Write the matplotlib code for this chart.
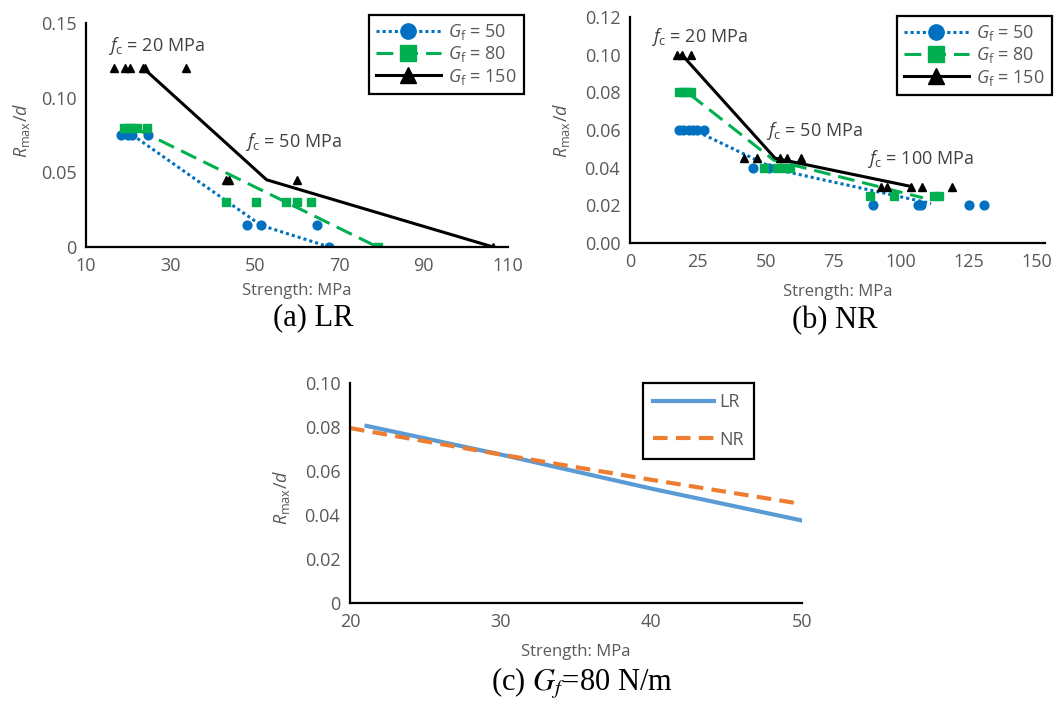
import matplotlib
matplotlib.use("Agg")
import matplotlib.pyplot as plt
from matplotlib.lines import Line2D

plt.rcParams['font.family'] = ['Open Sans', 'DejaVu Sans']
plt.rcParams['mathtext.fontset'] = 'custom'
plt.rcParams['mathtext.rm'] = 'Open Sans'
plt.rcParams['mathtext.it'] = 'Open Sans:italic'

# ---- (a) LR : points mesurés et tendances
a_x50 = [18.2, 20.0, 21.0, 24.6, 48.2, 51.4, 64.8, 67.7]
a_y50 = [0.075, 0.075, 0.075, 0.075, 0.015, 0.015, 0.015, 0.0]
a_x80 = [19.0, 20.0, 21.0, 22.0, 24.4, 43.1, 50.2, 57.4, 60.1, 63.4, 79.1]
a_y80 = [0.08, 0.08, 0.08, 0.08, 0.08, 0.03, 0.03, 0.03, 0.03, 0.03, 0.0]
a_x150 = [16.7, 19.2, 20.4, 23.6, 24.0, 33.6, 43.1, 43.9, 60.0, 106.5]
a_y150 = [0.12, 0.12, 0.12, 0.12, 0.12, 0.12, 0.045, 0.045, 0.045, 0.0]
a_tx50, a_ty50 = [21.0, 51.5, 67.7], [0.075, 0.0145, 0.0]
a_tx80, a_ty80 = [22.0, 79.1], [0.079, 0.0]
a_tx150, a_ty150 = [23.5, 52.8, 106.5], [0.12, 0.045, 0.0]

# ---- (b) NR
b_x50 = [18.2, 19.7, 21.6, 23.4, 24.6, 27.3, 45.3, 51.1, 89.5, 106.3, 107.4, 125.0, 130.5]
b_y50 = [0.06, 0.06, 0.06, 0.06, 0.06, 0.06, 0.04, 0.04, 0.02, 0.02, 0.02, 0.02, 0.02]
b_x80 = [18.0, 19.5, 21.0, 22.5, 49.3, 54.2, 56.7, 59.1, 88.3, 97.3, 112.1, 113.9]
b_y80 = [0.08, 0.08, 0.08, 0.08, 0.04, 0.04, 0.04, 0.04, 0.025, 0.025, 0.025, 0.025]
b_x150 = [17.5, 19.1, 22.5, 41.9, 46.8, 55.4, 57.9, 63.1, 92.4, 94.6, 103.7, 107.8, 118.8]
b_y150 = [0.10, 0.10, 0.10, 0.045, 0.045, 0.045, 0.045, 0.045, 0.03, 0.03, 0.03, 0.03, 0.03]
b_tx50, b_ty50 = [25.0, 54.0, 111.0], [0.059, 0.039, 0.021]
b_tx80, b_ty80 = [22.0, 53.0, 108.0], [0.079, 0.044, 0.024]
b_tx150, b_ty150 = [19.1, 53.5, 103.7], [0.10, 0.045, 0.03]

# ---- (c) Gf = 80
c_xlr, c_ylr = [21.1, 30.0, 40.0, 50.0], [0.0805, 0.0675, 0.052, 0.0375]
c_xnr, c_ynr = [20.0, 30.0, 40.0, 50.0], [0.0795, 0.0675, 0.056, 0.045]

BLUE, GREEN, BLACK = '#0070C0', '#00B050', 'black'
GREY = '#595959'
W, H = 1059, 704


def px_axes(fig, left, top, right, bottom):
    return fig.add_axes([left / W, 1 - bottom / H, (right - left) / W, (bottom - top) / H])


def fpt(x, y):
    # pixel (depuis le coin haut-gauche) -> fraction de figure
    return (x / W, 1 - y / H)


def style(ax):
    for s in ['top', 'right']:
        ax.spines[s].set_visible(False)
    for s in ['left', 'bottom']:
        ax.spines[s].set_linewidth(1.6)
    ax.tick_params(length=0, labelsize=13, labelcolor=GREY, pad=7)


def gf_legend(ax, fig, corner):
    handles = [
        Line2D([], [], color=BLUE, ls=(0, (1, 1)), lw=2.2, marker='o', ms=11),
        Line2D([], [], color=GREEN, ls=(0, (5.5, 2.6)), lw=2.2, marker='s', ms=11),
        Line2D([], [], color=BLACK, ls='-', lw=2.2, marker='^', ms=11),
    ]
    labels = [r'$G_\mathrm{f}$ = 50', r'$G_\mathrm{f}$ = 80', r'$G_\mathrm{f}$ = 150']
    leg = ax.legend(handles, labels, loc='upper right', bbox_to_anchor=fpt(*corner),
                    bbox_transform=fig.transFigure, borderaxespad=0,
                    fontsize=13, handlelength=3.6, handletextpad=0.4, labelspacing=0.12,
                    borderpad=0.4, fancybox=False, framealpha=1, labelcolor=GREY)
    leg.get_frame().set_edgecolor('black')
    leg.get_frame().set_linewidth(1.6)


def trends(ax, x50, y50, x80, y80, x150, y150, tx50, ty50, tx80, ty80, tx150, ty150):
    ax.plot(tx50, ty50, color=BLUE, ls=(0, (1, 1)), lw=2.2)
    ax.plot(tx80, ty80, color=GREEN, ls=(0, (5.5, 2.6)), lw=2.2)
    ax.plot(tx150, ty150, color=BLACK, lw=2.2)
    ax.plot(x50, y50, 'o', color=BLUE, ms=6.3, ls='none')
    ax.plot(x80, y80, 's', color=GREEN, ms=6, ls='none')
    ax.plot(x150, y150, '^', color=BLACK, ms=6, ls='none')


fig = plt.figure(figsize=(W / 100, H / 100), dpi=100)

# (a)
ax = px_axes(fig, 86, 23, 508, 247)
trends(ax, a_x50, a_y50, a_x80, a_y80, a_x150, a_y150,
       a_tx50, a_ty50, a_tx80, a_ty80, a_tx150, a_ty150)
ax.set_xlim(10, 110)
ax.set_ylim(0, 0.15)
ax.set_xticks([10, 30, 50, 70, 90, 110])
ax.set_yticks([0, 0.05, 0.10, 0.15])
ax.set_yticklabels(['0', '0.05', '0.10', '0.15'])
style(ax)
ax.text(15.2, 0.1346, r'$f_\mathrm{c}$ = 20 MPa', fontsize=13, color='#404040', va='center')
ax.text(47.7, 0.0703, r'$f_\mathrm{c}$ = 50 MPa', fontsize=13, color='#404040', va='center')
ax.set_xlabel('Strength: MPa', fontsize=12, color=GREY)
ax.xaxis.set_label_coords(0.5, -0.16)
ax.set_ylabel(r'$R_\mathrm{max}/d$', fontsize=13, color=GREY)
ax.yaxis.set_label_coords(-0.128, 0.52)
gf_legend(ax, fig, (524, 15))

# (b)
ax = px_axes(fig, 630, 17, 1045, 243)
trends(ax, b_x50, b_y50, b_x80, b_y80, b_x150, b_y150,
       b_tx50, b_ty50, b_tx80, b_ty80, b_tx150, b_ty150)
ax.set_xlim(0, 153)
ax.set_ylim(0, 0.12)
ax.set_xticks([0, 25, 50, 75, 100, 125, 150])
ax.set_yticks([0, 0.02, 0.04, 0.06, 0.08, 0.10, 0.12])
ax.set_yticklabels(['0.00', '0.02', '0.04', '0.06', '0.08', '0.10', '0.12'])
style(ax)
ax.text(7.6, 0.1095, r'$f_\mathrm{c}$ = 20 MPa', fontsize=13, color='#404040', va='center')
ax.text(50.2, 0.0596, r'$f_\mathrm{c}$ = 50 MPa', fontsize=13, color='#404040', va='center')
ax.text(87.2, 0.0446, r'$f_\mathrm{c}$ = 100 MPa', fontsize=13, color='#404040', va='center')
ax.set_xlabel('Strength: MPa', fontsize=12, color=GREY)
ax.xaxis.set_label_coords(0.5, -0.18)
ax.set_ylabel(r'$R_\mathrm{max}/d$', fontsize=13, color=GREY)
ax.yaxis.set_label_coords(-0.14, 0.5)
gf_legend(ax, fig, (1052, 16))

# (c)
ax = px_axes(fig, 350, 383, 802, 603)
ax.plot(c_xlr, c_ylr, color='#5B9BD5', lw=3, label='LR')
ax.plot(c_xnr, c_ynr, color='#ED7D31', lw=3, ls=(0, (3.5, 2)), label='NR')
ax.set_xlim(20, 50)
ax.set_ylim(0, 0.10)
ax.set_xticks([20, 30, 40, 50])
ax.set_yticks([0, 0.02, 0.04, 0.06, 0.08, 0.10])
ax.set_yticklabels(['0', '0.02', '0.04', '0.06', '0.08', '0.10'])
style(ax)
ax.set_xlabel('Strength: MPa', fontsize=12, color=GREY)
ax.xaxis.set_label_coords(0.5, -0.185)
ax.set_ylabel(r'$R_\mathrm{max}/d$', fontsize=13, color=GREY)
ax.yaxis.set_label_coords(-0.128, 0.48)
leg = ax.legend(loc='upper left', bbox_to_anchor=fpt(643, 383), bbox_transform=fig.transFigure,
                borderaxespad=0, fontsize=13, handlelength=3.4, handletextpad=0.3,
                labelspacing=1.1, borderpad=0.55, fancybox=False, framealpha=1,
                labelcolor=GREY)
leg.get_frame().set_edgecolor('black')
leg.get_frame().set_linewidth(1.6)

# légendes des sous-figures
cap = dict(fontsize=22, family=['Liberation Serif', 'DejaVu Serif'], ha='center', va='center')
fig.text(*fpt(313, 318), '(a) LR', **cap)
fig.text(*fpt(835, 321), '(b) NR', **cap)
fig.text(*fpt(582, 683), r'(c) $G_f$=80 N/m', math_fontfamily='stix', **cap)

fig.savefig('out.png', dpi=100)
